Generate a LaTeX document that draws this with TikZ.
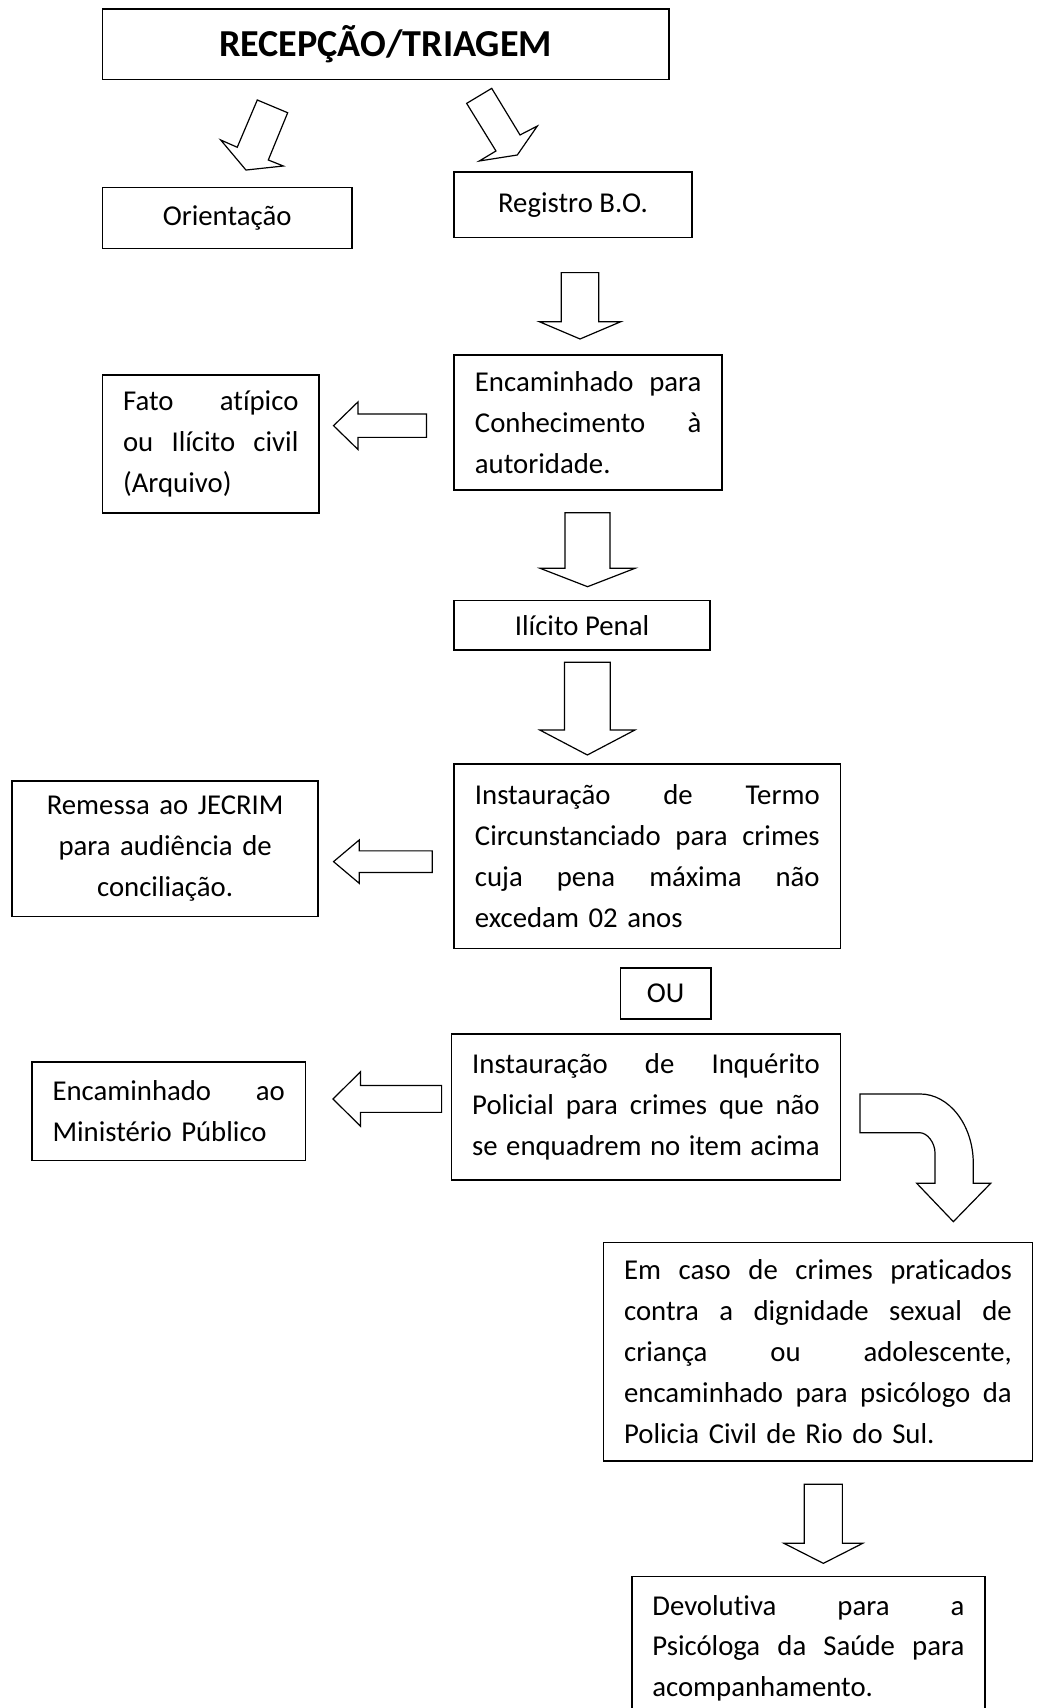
\documentclass[tikz,border=0pt]{standalone}
\usepackage{fontspec}
\setmainfont{Carlito}[Ligatures={NoCommon,NoRare}]
\newcommand\flowfont{\fontsize{26.4}{37.5}\selectfont}
% a justified line of given width; words are separated by \hfill
\newcommand\jl[2]{\makebox[#1][s]{#2}}
% block arrow pointing down: centre x, shaft top, head base, tip, shaft half width, head half width
\newcommand\blockdown[6]{%
  \draw[blk] (#1-#5,#2) -- (#1+#5,#2) -- (#1+#5,#3) -- (#1+#6,#3) -- (#1,#4)
    -- (#1-#6,#3) -- (#1-#5,#3) -- cycle;}
% block arrow pointing left: tip x, centre y, head base x, shaft right end, shaft half height, head half height
\newcommand\blockleft[6]{%
  \draw[blk] (#1,#2) -- (#3,#2-#6) -- (#3,#2-#5) -- (#4,#2-#5) -- (#4,#2+#5)
    -- (#3,#2+#5) -- (#3,#2+#6) -- cycle;}
\begin{document}
\begin{tikzpicture}[x=1pt,y=-1pt,
  box/.style={draw=black, line width=1.5pt, rectangle, inner sep=0pt, font=\flowfont},
  jbox/.style={box, align=left},
  blk/.style={draw=black, line width=1.1pt, line join=miter, fill=white}]
\useasboundingbox (0,0) rectangle (952,1568);
\clip (0,0) rectangle (952,1568);

% boxes
\node[box, minimum width=520pt, minimum height=65pt, font=\fontsize{35}{40}\selectfont\bfseries]
  (title) at (354,40.5) {RECEPÇÃO/TRIAGEM};
\node[box, minimum width=229pt, minimum height=56pt] (orient) at (208.5,200) {Orientação};
\node[box, minimum width=218pt, minimum height=60pt] (registro) at (526,188) {\raisebox{2pt}{Registro B.O.}};
\node[jbox, minimum width=246pt, minimum height=124pt, text width=208pt] (enc) at (540,388)
  {\jl{208pt}{Encaminhado\hfill para}\\\jl{208pt}{Conhecimento\hfill à}\\autoridade.};
\node[jbox, minimum width=199pt, minimum height=127pt, text width=161pt] (fato) at (193.5,407.5)
  {\jl{161pt}{Fato\hfill atípico}\\\jl{161pt}{ou\hfill Ilícito\hfill civil}\\(Arquivo)};
\node[box, minimum width=235pt, minimum height=45.3pt] (ilicito) at (534.3,574) {Ilícito Penal};
\node[jbox, minimum width=354.5pt, minimum height=169.2pt, text width=316.5pt] (termo) at (594.25,786)
  {\jl{316.5pt}{Instauração\hfill de\hfill Termo}\\
   \jl{316.5pt}{Circunstanciado\hfill para\hfill crimes}\\
   \jl{316.5pt}{cuja\hfill pena\hfill máxima\hfill não}\\
   excedam 02 anos};
\node[box, align=center, minimum width=281pt, minimum height=124.8pt, text width=243pt] (remessa) at (151.6,779.1)
  {Remessa ao JECRIM\\para audiência de\\conciliação.};
\node[box, minimum width=83pt, minimum height=46.6pt] (ou) at (611.1,912.2) {OU};
\node[jbox, minimum width=357.1pt, minimum height=134.1pt, text width=319pt] (inq) at (593,1016.25)
  {\jl{319pt}{Instauração\hfill de\hfill Inquérito}\\
   \jl{319pt}{Policial\hfill para\hfill crimes\hfill que\hfill não}\\
   \jl{319pt}{se\hfill enquadrem\hfill no\hfill item\hfill acima}};
\node[jbox, minimum width=251.3pt, minimum height=90.3pt, text width=213.3pt] (encmp) at (154.85,1020.35)
  {\jl{213.3pt}{Encaminhado\hfill ao}\\Ministério Público};
\node[jbox, minimum width=394.1pt, minimum height=200.4pt, text width=356pt] (emcaso) at (750.95,1241)
  {\jl{356pt}{Em\hfill caso\hfill de\hfill crimes\hfill praticados}\\
   \jl{356pt}{contra\hfill a\hfill dignidade\hfill sexual\hfill de}\\
   \jl{356pt}{criança\hfill ou\hfill adolescente,}\\
   \jl{356pt}{encaminhado\hfill para\hfill psicólogo\hfill da}\\
   Policia Civil de Rio do Sul.};
\node[jbox, minimum width=324.4pt, minimum height=131.6pt, text width=286.4pt] (devol) at (742.1,1513.2)
  {\jl{286.4pt}{Devolutiva\hfill para\hfill a}\\
   \jl{286.4pt}{Psicóloga\hfill da\hfill Saúde\hfill para}\\
   acompanhamento.};

% slanted arrows below the title
\draw[blk] (236.2,91.8) -- (264.1,103.5) -- (246.3,146.9) -- (260.1,152.4) -- (225.8,156.1)
  -- (202.6,128.5) -- (217.8,135.2) -- cycle;
\draw[blk] (428.4,94.9) -- (451.4,81.1) -- (477.4,123.9) -- (493.3,115.7) -- (474.9,142.3)
  -- (440,147.8) -- (455.3,138.6) -- cycle;

% downward block arrows
\blockdown{532.5}{250.3}{295.3}{311.2}{17.25}{37.45}
\blockdown{539.4}{470.7}{521.7}{538.6}{20.65}{43.6}
\blockdown{539.2}{608}{670.2}{693.1}{21}{43.6}
\blockdown{755.85}{1362.6}{1416.8}{1435.2}{17.45}{36.15}

% leftward block arrows
\blockleft{306.2}{390.8}{328.7}{391.5}{10.7}{21.9}
\blockleft{306.2}{791}{329.8}{396.9}{9.9}{19.9}
\blockleft{305.7}{1008.9}{330.9}{405.4}{12.3}{24.95}

% bent arrow turning down
\draw[blk] (789.5,1004.3) -- (844.6,1004.3)
  .. controls (871.5,1004.3) and (893.5,1033) .. (893.5,1068)
  -- (893.5,1086.3) -- (909.5,1086.3) -- (875.2,1121.5) -- (841.6,1086.3) -- (858.4,1086.3)
  -- (858.4,1058.8) .. controls (858.4,1048.4) and (850.8,1039.9) .. (844.6,1039.9)
  -- (789.5,1039.9) -- cycle;
\end{tikzpicture}
\end{document}
